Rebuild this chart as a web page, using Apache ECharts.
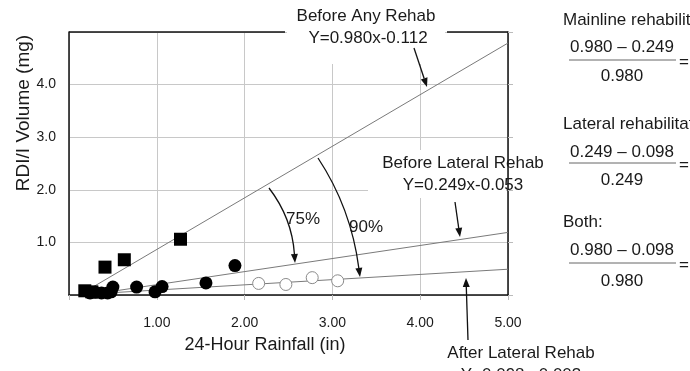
<!DOCTYPE html>
<html>
<head>
<meta charset="utf-8">
<script src="https://cdn.jsdelivr.net/npm/echarts@6/dist/echarts.min.js"></script>
<style>
    html, body { margin: 0; padding: 0; background: #fff; }
    #chart { width: 690px; height: 371px; }
</style>
</head>
<body>
<div id="chart"></div>
<script>
// tick labels
var xTicks = ['', '1.00', '2.00', '3.00', '4.00', '5.00'];
var yTicks = ['', '1.0', '2.0', '3.0', '4.0', ''];

// measured points [rainfall, volume]
var beforeAnyPts = [[0.18, 0.08], [0.26, 0.06], [0.41, 0.53], [0.63, 0.67], [1.27, 1.06]];
var beforeLatPts = [[0.24, 0.04], [0.30, 0.05], [0.37, 0.04], [0.44, 0.04], [0.48, 0.06], [0.50, 0.15],
    [0.77, 0.15], [0.98, 0.06], [1.06, 0.16], [1.56, 0.23], [1.89, 0.56]];
var afterLatPts = [[2.16, 0.22], [2.47, 0.20], [2.77, 0.33], [3.06, 0.27]];

// fitted lines, end points
var beforeAnyLine = [[0.27, 0.15], [5, 4.79]];
var beforeLatLine = [[0.25, 0.01], [5, 1.19]];
var afterLatLine = [[0.25, 0.02], [5, 0.49]];

var FONT = '"Liberation Sans", Arial, sans-serif';
var INK = '#1a1a1a';

var myChart = echarts.init(document.getElementById('chart'));

function txt(s, x, y, size, align) {
    return {
        type: 'text', x: x, y: y, z: 10,
        style: { text: s, fontSize: size, fontFamily: FONT, fill: INK, align: align || 'center', verticalAlign: 'middle' }
    };
}
function hline(x1, x2, y, color, w) {
    return { type: 'line', z: 10, shape: { x1: x1, y1: y, x2: x2, y2: y }, style: { stroke: color, lineWidth: w } };
}
function whiteBox(x, y, w, h) {
    return { type: 'rect', z: 1, shape: { x: x, y: y, width: w, height: h }, style: { fill: '#fff' } };
}
// arrow along a quadratic curve (cx, cy = control point)
function arrow(x1, y1, cx, cy, x2, y2) {
    var ang = Math.atan2(y2 - cy, x2 - cx);
    var L = 9, W = 3.5;
    var bx = x2 - L * Math.cos(ang), by = y2 - L * Math.sin(ang);
    return [
        { type: 'bezierCurve', z: 10, shape: { x1: x1, y1: y1, cpx1: cx, cpy1: cy, x2: bx, y2: by },
          style: { stroke: '#111', lineWidth: 1.3, fill: 'none' } },
        { type: 'polygon', z: 10, shape: { points: [[x2, y2],
            [bx - W * Math.sin(ang), by + W * Math.cos(ang)],
            [bx + W * Math.sin(ang), by - W * Math.cos(ang)]] },
          style: { fill: '#111' } }
    ];
}
function straight(x1, y1, x2, y2) {
    return arrow(x1, y1, (x1 + x2) / 2, (y1 + y2) / 2, x2, y2);
}

var graphics = [
    whiteBox(287, 0, 158, 64),
    whiteBox(368, 150, 138, 48),
    hline(69, 285, 32, '#111', 1.5),
    hline(447, 508, 32, '#111', 1.5),
    txt('Before Any Rehab', 366, 16, 17),
    txt('Y=0.980x-0.112', 368, 38, 17),
    txt('Before Lateral Rehab', 463, 163, 17),
    txt('Y=0.249x-0.053', 463, 185, 17),
    txt('After Lateral Rehab', 521, 353, 17),
    txt('Y=0.098x-0.003', 521, 375, 17),
    txt('75%', 303, 219, 17),
    txt('90%', 366, 227, 17),
    txt('24-Hour Rainfall (in)', 265, 345, 18),
    {
        type: 'text', x: 24, y: 113, z: 10, rotation: Math.PI / 2,
        style: { text: 'RDI/I Volume (mg)', fontSize: 19, fontFamily: FONT, fill: INK, align: 'center', verticalAlign: 'middle' }
    },
    // right side calculations
    txt('Mainline rehabilitation:', 563, 20, 17, 'left'),
    txt('0.980 \u2013 0.249', 622, 47, 17),
    hline(569, 676, 60, '#666', 1),
    txt('= 75%', 679, 62, 17, 'left'),
    txt('0.980', 622, 76, 17),
    txt('Lateral rehabilitation:', 563, 124, 17, 'left'),
    txt('0.249 \u2013 0.098', 622, 152, 17),
    hline(569, 676, 163, '#666', 1),
    txt('= 61%', 679, 165, 17, 'left'),
    txt('0.249', 622, 180, 17),
    txt('Both:', 563, 222, 17, 'left'),
    txt('0.980 \u2013 0.098', 622, 250, 17),
    hline(569, 676, 263, '#666', 1),
    txt('= 90%', 679, 265, 17, 'left'),
    txt('0.980', 622, 281, 17)
];
graphics = graphics
    .concat(straight(414, 48, 427, 87))
    .concat(straight(455, 202, 460, 237))
    .concat(straight(468, 340, 466, 278))
    .concat(arrow(269, 188, 292, 218, 295, 263))
    .concat(arrow(318, 158, 351, 208, 360, 277));

var lineStyle = { color: '#7a7a7a', width: 1 };

var option = {
    animation: false,
    backgroundColor: '#fff',
    grid: { left: 69, right: 182, top: 32, bottom: 76 },
    xAxis: {
        type: 'value', min: 0, max: 5, interval: 1,
        axisLine: { lineStyle: { color: '#111', width: 1.5 } },
        axisTick: { show: true, length: 5, lineStyle: { color: '#bbb' } },
        axisLabel: {
            margin: 21, fontSize: 14, fontFamily: FONT, color: INK,
            formatter: function (v) { return xTicks[Math.round(v)]; }
        },
        splitLine: { show: true, lineStyle: { color: '#c8c8c8', width: 1 } }
    },
    yAxis: [{
        type: 'value', min: 0, max: 5, interval: 1,
        axisLine: { show: true, lineStyle: { color: '#111', width: 1.5 } },
        axisTick: { show: false },
        axisLabel: {
            margin: 13, fontSize: 14, fontFamily: FONT, color: INK,
            formatter: function (v) { return yTicks[Math.round(v)]; }
        },
        splitLine: { show: true, lineStyle: { color: '#c8c8c8', width: 1 } }
    }, {
        type: 'value', min: 0, max: 5, interval: 1, position: 'right',
        axisLine: { show: true, lineStyle: { color: '#111', width: 1.5 } },
        axisTick: { show: true, length: 5, lineStyle: { color: '#bbb' } },
        axisLabel: { show: false },
        splitLine: { show: false }
    }],
    graphic: graphics,
    series: [
        { name: 'Before Any Rehab fit', type: 'line', data: beforeAnyLine, symbol: 'none', lineStyle: lineStyle, z: 2 },
        { name: 'Before Lateral Rehab fit', type: 'line', data: beforeLatLine, symbol: 'none', lineStyle: lineStyle, z: 2 },
        { name: 'After Lateral Rehab fit', type: 'line', data: afterLatLine, symbol: 'none', lineStyle: lineStyle, z: 2 },
        { name: 'Before Any Rehab', type: 'scatter', data: beforeAnyPts, symbol: 'rect', symbolSize: 13,
          itemStyle: { color: '#000', opacity: 1 }, z: 3 },
        { name: 'Before Lateral Rehab', type: 'scatter', data: beforeLatPts, symbol: 'circle', symbolSize: 13,
          itemStyle: { color: '#000', opacity: 1 }, z: 3 },
        { name: 'After Lateral Rehab', type: 'scatter', data: afterLatPts, symbol: 'circle', symbolSize: 12,
          itemStyle: { color: '#fff', borderColor: '#8a8a8a', borderWidth: 1, opacity: 1 }, z: 3 }
    ]
};
myChart.setOption(option);
</script>
</body>
</html>
